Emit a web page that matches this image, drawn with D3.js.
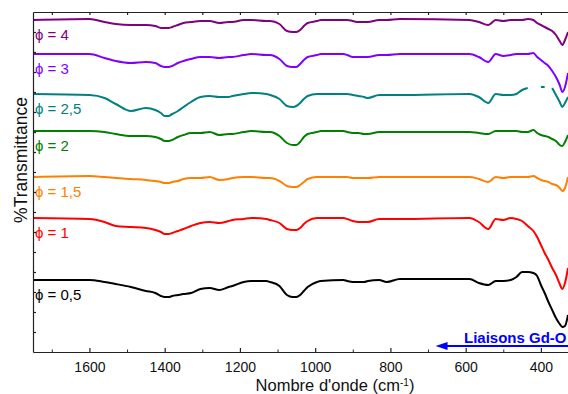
<!DOCTYPE html>
<html>
<head>
<meta charset="utf-8">
<script src="https://cdn.jsdelivr.net/npm/d3@7"></script>
<style>
  html, body { margin: 0; padding: 0; background: #fff; }
  svg { display: block; }
  text { font-family: "Liberation Sans", Arial, sans-serif; }
</style>
</head>
<body>
<svg id="chart" width="568" height="394"></svg>
<script>
// ---- data ----
const wavenumbers = [1750,1600,1560,1530,1490,1450,1425,1410,1400,1390,1380,1365,1350,1330,1305,1280,1255,1230,1220,1190,1170,1130,1120,1095,1075,1060,1050,1040,1030,1020,995,985,925,915,900,885,870,860,830,810,775,590,565,540,520,500,480,465,450,435,420,410,400,390,380,370,360,350,343,336,328];

// offset %Transmittance (arbitrary units, stacked spectra)
const phi4  = [332,333,330,328,327,327,326,324,324,324,325,327,329,330,331,331,329,330,330,332,332,331,331,328,321,320,320,322,326,329,331,332,332,332,331,330,330,330,332,332,333,332,330,327,332,331,332,332,332,333,332,329,327,325,323,321,317,311,307,312,320];
const phi3  = [298,298,294,291,289,290,289,286,285,285,286,289,291,293,295,295,294,295,295,297,298,297,297,293,286,285,285,288,292,295,297,298,298,297,295,295,295,295,297,297,298,298,295,290,298,296,297,298,298,298,299,295,292,289,286,281,275,267,260,265,279];
const phi25 = [258,257,254,248,241,244,242,239,236,236,238,241,245,250,255,256,255,255,256,258,259,258,257,253,246,245,246,249,253,256,258,258,258,258,257,256,255,254,257,257,257,258,255,249,258,257,257,258,262,264,null,null,265,265,null,264,257,250,245,249,255];
const phi2  = [221,221,220,218,216,216,215,213,211,211,212,215,217,219,219,220,217,218,218,220,221,220,220,216,209,207,207,210,215,218,220,221,221,220,219,219,218,218,220,220,220,220,219,218,221,221,221,221,220,220,222,219,217,216,215,213,211,207,206,210,217];
const phi15 = [175,176,175,174,173,172,171,170,169,169,170,171,173,174,174,175,172,173,174,175,175,174,174,171,166,165,165,167,170,173,175,175,175,175,174,174,174,174,175,175,175,175,173,170,175,174,175,175,175,175,176,174,172,171,170,168,167,164,161,164,175];
const phi1  = [134,133,130,126,125,124,122,120,118,118,119,121,123,126,129,130,129,131,132,133,134,133,132,129,123,122,122,124,128,131,134,134,134,133,131,130,130,130,133,133,133,134,130,123,133,132,134,133,131,126,121,115,107,99,92,84,77,68,63,69,84];
const phi05 = [72,72,70,68,65,61,59,56,55,55,56,57,58,59,63,64,62,65,66,70,71,71,70,66,57,55,55,57,61,65,70,71,72,71,70,70,70,71,72,70,73,73,69,67,71,71,72,75,80,80,79,76,67,59,50,42,34,28,25,26,37];

const seriesLabels = ["ϕ = 4","ϕ = 3","ϕ = 2,5","ϕ = 2","ϕ = 1,5","ϕ = 1","ϕ = 0,5"];
const seriesValues = [phi4, phi3, phi25, phi2, phi15, phi1, phi05];
const seriesColors = ["#800080","#8000ff","#008080","#008000","#ff8000","#ff0000","#000000"];

const xMajorTicks = [1600,1400,1200,1000,800,600,400];
const xMinorTicks = [1700,1500,1300,1100,900,700,500];
const xTitle = "Nombre d'onde (cm";
const yTitle = "%Transmittance";
const annotationText = "Liaisons Gd-O";
const annotationRange = [680, 328];

// ---- layout ----
const svg = d3.select("#chart");
const mLeft = 33, mRight = 568, mTop = 12, mBottom = 352;

const x = d3.scaleLinear().domain([1750, 328]).range([mLeft, mRight]);
const y = d3.scaleLinear().domain([0, 340]).range([mBottom, mTop]);

// spectra
const line = d3.line()
  .defined(d => d.v != null)
  .x(d => x(d.w))
  .y(d => y(d.v))
  .curve(d3.curveMonotoneX);

seriesValues.forEach((vals, i) => {
  const pts = wavenumbers.map((w, j) => ({w, v: vals[j]}));
  svg.append("path")
    .datum(pts)
    .attr("fill", "none")
    .attr("stroke", seriesColors[i])
    .attr("stroke-width", 2)
    .attr("stroke-linejoin", "round")
    .attr("d", line);
  svg.append("text")
    .attr("x", 35)
    .attr("y", y(vals[0]) + 20)
    .attr("fill", seriesColors[i])
    .attr("font-size", 15)
    .text(seriesLabels[i]);
});

// axes
const axisColor = "#222";
const gB = svg.append("g").attr("transform", `translate(0,${mBottom})`)
  .call(d3.axisBottom(x).tickValues(xMajorTicks).tickFormat(d3.format("d"))
        .tickSizeInner(-4).tickSizeOuter(0).tickPadding(10));
gB.selectAll("text").attr("font-size", 14).attr("fill", "#111")
  .attr("font-family", "Liberation Sans, Arial, sans-serif");
gB.selectAll("line, path").attr("stroke", axisColor).attr("stroke-width", 1.2);
svg.append("g").attr("transform", `translate(0,${mBottom})`)
  .call(d3.axisBottom(x).tickValues(xMinorTicks).tickFormat("").tickSizeInner(-2.5).tickSizeOuter(0))
  .call(g => g.select(".domain").remove())
  .selectAll("line").attr("stroke", axisColor);

const gT = svg.append("g").attr("transform", `translate(0,${mTop})`)
  .call(d3.axisTop(x).tickValues(xMajorTicks.concat(xMinorTicks)).tickFormat("")
        .tickSizeInner(-3).tickSizeOuter(0));
gT.selectAll("line, path").attr("stroke", axisColor).attr("stroke-width", 1.2);

const gL = svg.append("g").attr("transform", `translate(${mLeft},0)`)
  .call(d3.axisLeft(y).tickValues(d3.range(20, 340, 20)).tickFormat("")
        .tickSizeInner(-3).tickSizeOuter(0));
gL.selectAll("line, path").attr("stroke", axisColor).attr("stroke-width", 1.2);

// titles
const xt = svg.append("text")
  .attr("x", 335)
  .attr("y", 391)
  .attr("text-anchor", "middle")
  .attr("font-size", 16.5)
  .attr("fill", "#111");
xt.append("tspan").text(xTitle);
xt.append("tspan").attr("dy", -5).attr("font-size", 10).text("-1");
xt.append("tspan").attr("dy", 5).text(")");

svg.append("text")
  .attr("transform", "translate(27,160) rotate(-90)")
  .attr("text-anchor", "middle")
  .attr("font-size", 17.5)
  .attr("fill", "#111")
  .text(yTitle);

// annotation arrow
const ax0 = x(annotationRange[0]), ax1 = x(annotationRange[1]);
const ay = 346;
svg.append("line")
  .attr("x1", ax0 + 8).attr("x2", ax1)
  .attr("y1", ay).attr("y2", ay)
  .attr("stroke", "#0000ff").attr("stroke-width", 2.2);
svg.append("path")
  .attr("d", `M${ax0},${ay} L${ax0 + 12},${ay - 4} L${ax0 + 12},${ay + 4} Z`)
  .attr("fill", "#0000ff");
svg.append("text")
  .attr("x", 464)
  .attr("y", 343)
  .attr("font-size", 15)
  .attr("font-weight", "bold")
  .attr("fill", "#0000ff")
  .text(annotationText);
</script>
</body>
</html>
